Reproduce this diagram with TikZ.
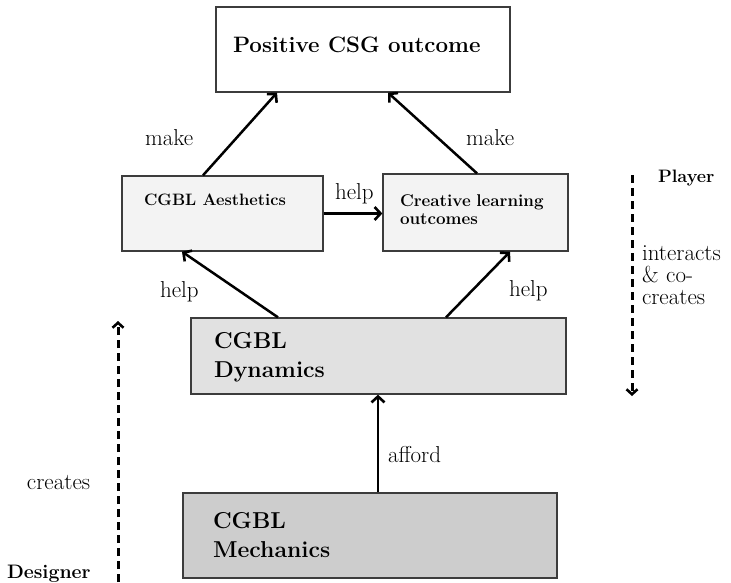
\documentclass[tikz,border=0pt]{standalone}
\usepackage{fontspec}
\usetikzlibrary{arrows.meta,shadows}
\definecolor{paleface}{HTML}{F3F3F3}
\definecolor{midface}{HTML}{E1E1E1}
\definecolor{darkface}{HTML}{CDCDCD}
\definecolor{edge}{HTML}{3C3C3C}
\begin{document}
\begin{tikzpicture}[x=1pt,y=-1pt,
  box/.style={draw=edge, line width=1.3pt, rectangle, inner sep=0pt,
    drop shadow={shadow xshift=1.3pt, shadow yshift=-1.3pt, opacity=0.3, fill=black!60}},
  txt/.style={anchor=base west, inner sep=0pt, outer sep=0pt},
  big/.style={txt, font=\fontsize{23}{29}\selectfont\bfseries},
  plain/.style={txt, font=\fontsize{23}{22}\selectfont},
  link/.style={line width=2.5pt, -{Straight Barb[length=6pt,width=13pt,line width=2.6pt]}},
  role/.style={line width=3pt, dash pattern=on 8pt off 5pt,
    -{Straight Barb[length=5pt,width=11pt,line width=2.6pt]}}
]
\useasboundingbox (0,0) rectangle (731,582);

% boxes
\node[box, fill=white,     minimum width=294pt, minimum height=85pt] (top)  at (363,49.5) {};
\node[box, fill=paleface,  minimum width=201pt, minimum height=75pt] (aes)  at (222.5,213.5) {};
\node[box, fill=paleface,  minimum width=185pt, minimum height=77pt] (cre)  at (475.5,212.5) {};
\node[box, fill=midface,   minimum width=375pt, minimum height=76pt] (dyn)  at (378.5,356) {};
\node[box, fill=darkface,  minimum width=374pt, minimum height=85pt] (mech) at (370,535.5) {};

% box texts
\node[txt, font=\fontsize{22.3}{26}\selectfont\bfseries] (toptxt) at (233,52) {Positive CSG outcome};
\node[txt, font=\fontsize{16.5}{20}\selectfont\bfseries] (aestxt) at (144,205) {CGBL Aesthetics};
\node[txt, font=\fontsize{17}{18}\selectfont\bfseries, text width=170pt, align=left] (cretxt) at (400,206) {Creative learning\\outcomes};
\node[big, text width=200pt, align=left] (dyntxt) at (214,348) {CGBL\\Dynamics};
\node[big, text width=200pt, align=left] (mechtxt) at (213,528) {CGBL\\Mechanics};

% relations between the boxes
\draw[link] ([xshift=-19.5pt]aes.north) -- ([xshift=-86pt]top.south);
\draw[link] ([xshift=1.5pt]cre.north) -- ([xshift=25pt]top.south);
\draw[link] (aes.east) -- (aes.east -| cre.west);
\draw[link] ([xshift=-100.5pt]dyn.north) -- ([xshift=-40.5pt]aes.south);
\draw[link] ([xshift=67.5pt]dyn.north) -- ([xshift=34.5pt]cre.south);
\draw[link] ([xshift=8pt]mech.north) -- ([xshift=8pt]mech.north |- dyn.south);

% relation labels
\node[plain] (mkl) at (145,145) {make};
\node[plain] (mkr) at (466,145) {make};
\node[plain] (hpm) at (335,199) {help};
\node[plain] (hpl) at (160,297) {help};
\node[plain] (hpr) at (509,296) {help};
\node[plain] (aff) at (388,462) {afford};

% player and designer roles
\coordinate (ptop) at (632,175);
\coordinate (pend) at (632,396);
\draw[role] (ptop) -- (pend);
\node[txt, font=\fontsize{18}{22}\selectfont\bfseries] (player) at (658,182) {Player};
\node[plain, text width=90pt, align=left] (inter) at (642,260) {interacts\\\& co-\\creates};

\coordinate (dfoot) at (118,582);
\coordinate (dtop) at (118,321);
\draw[role] (dfoot) -- (dtop);
\node[plain] (creates) at (27,489) {creates};
\node[txt, font=\fontsize{19.5}{22}\selectfont\bfseries] (designer) at (7,578) {Designer};
\end{tikzpicture}
\end{document}
